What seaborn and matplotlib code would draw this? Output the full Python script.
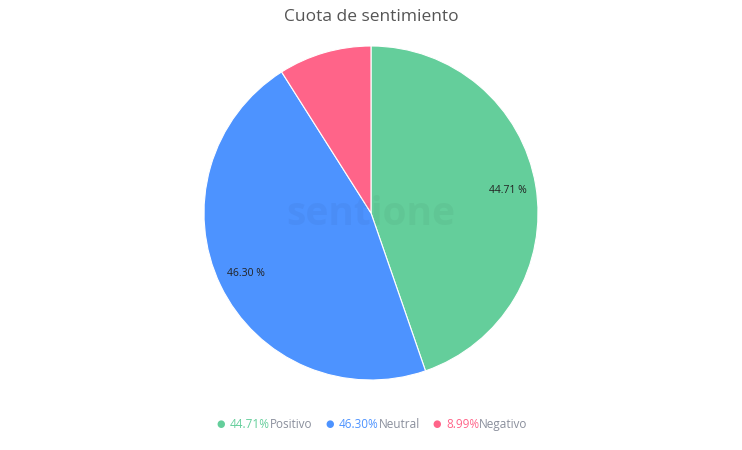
import matplotlib
matplotlib.use("Agg")
import matplotlib.pyplot as plt
import seaborn as sns

categories = ["Positivo", "Neutral", "Negativo"]
values = [44.71, 46.30, 8.99]
colors = ["#64CE9B", "#4D93FF", "#FF6489"]
title = "Cuota de sentimiento"

sns.set_theme(style="white")
plt.rcParams['font.family'] = ['Open Sans', 'DejaVu Sans']

fig = plt.figure(figsize=(7.42, 4.5), dpi=100)
ax = fig.add_axes([(371 - 167) / 742, 1 - 380 / 450, 334 / 742, 334 / 450])

def fmt(p):
    return f"{p:.2f} %" if p > 10 else ""

wedges, texts, autotexts = ax.pie(
    values, colors=sns.color_palette(colors), startangle=90, counterclock=False,
    autopct=fmt, pctdistance=0.83,
    wedgeprops=dict(edgecolor="white", linewidth=0.8),
    textprops=dict(fontsize=7.5, color="#222222"))
ax.set_xlim(-1, 1)
ax.set_ylim(-1, 1)
ax.set_aspect("equal")

# faint watermark
ax.text(0.0, -0.01, "sentione", ha="center", va="center", fontsize=28,
        fontweight="bold", color="#000000", alpha=0.035)

fig.suptitle(title, y=1 - 17 / 450, va="center", fontsize=12.5, color="#555555")

# custom legend
fig.canvas.draw()
renderer = fig.canvas.get_renderer()
ly = 1 - 424 / 450
lb = 1 - 428 / 450
starts = [221, 330, 437]
for cat, v, c, sx in zip(categories, values, colors, starts):
    fig.text(sx / 742, ly, "●", ha="center", va="center", fontsize=7, color=c)
    t1 = fig.text((sx + 9) / 742, lb, f"{v:.2f}%", ha="left", va="baseline",
                  fontsize=8.5, color=c)
    bb = t1.get_window_extent(renderer)
    fig.text(bb.x1 / fig.bbox.width, lb, cat, ha="left", va="baseline",
             fontsize=8.5, color="#8A8F9C")

fig.savefig("out.png", dpi=100, facecolor="white")
